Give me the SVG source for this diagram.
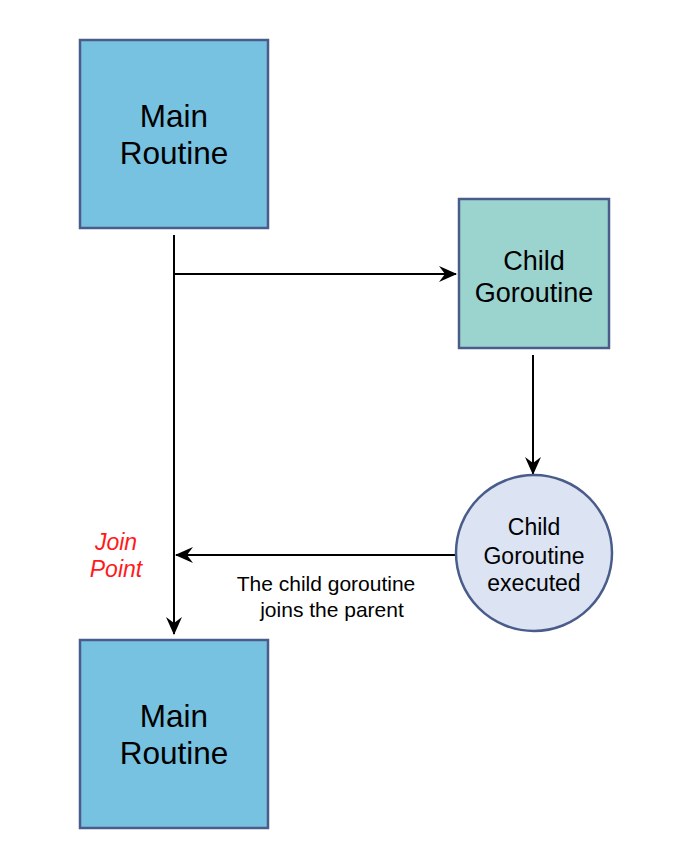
<svg xmlns="http://www.w3.org/2000/svg" width="680" height="862" viewBox="0 0 680 862">
<style>
.node{stroke:#4a5d8a;stroke-width:2.5}
.main{fill:#77c2e0}
.child{fill:#9bd3cf}
.done{fill:#dce3f3}
.t{font-family:"Liberation Sans",Arial,sans-serif;fill:#000;text-anchor:middle}
.red{fill:#ff1a1a;font-style:italic}
.edge{stroke:#000;stroke-width:2;fill:none}
</style>
<defs>
<marker id="arr" viewBox="0 0 18 16" refX="17" refY="8" markerWidth="18" markerHeight="16" markerUnits="userSpaceOnUse" orient="auto">
<path d="M0,0 L18,8 L0,16 L6,8 Z" fill="#000"/>
</marker>
</defs>
<rect width="680" height="862" fill="#fff"/>
<g id="connectors">
<path class="edge" d="M174,235 L174,634" marker-end="url(#arr)"/>
<path class="edge" d="M175,274 L456,274" marker-end="url(#arr)"/>
<path class="edge" d="M533,355 L533,474" marker-end="url(#arr)"/>
<path class="edge" d="M455,555 L176,555" marker-end="url(#arr)"/>
</g>
<g id="main1">
<rect class="node main" x="80" y="40" width="188" height="188"/>
<text class="t" x="174" y="127" font-size="31.5">Main</text>
<text class="t" x="174" y="164" font-size="31.5">Routine</text>
</g>
<g id="child">
<rect class="node child" x="459" y="199" width="150" height="149"/>
<text class="t" x="534" y="270" font-size="27">Child</text>
<text class="t" x="534" y="302" font-size="27">Goroutine</text>
</g>
<g id="executed">
<circle class="node done" cx="534" cy="553" r="78"/>
<text class="t" x="534" y="535" font-size="23">Child</text>
<text class="t" x="534" y="564" font-size="23">Goroutine</text>
<text class="t" x="534" y="591" font-size="23">executed</text>
</g>
<g id="main2">
<rect class="node main" x="80" y="640" width="188" height="188"/>
<text class="t" x="174" y="727" font-size="31.5">Main</text>
<text class="t" x="174" y="764" font-size="31.5">Routine</text>
</g>
<g id="labels">
<text class="t red" x="116" y="550" font-size="23">Join</text>
<text class="t red" x="116" y="577" font-size="23">Point</text>
<text class="t" x="326" y="591" font-size="21">The child goroutine</text>
<text class="t" x="332" y="617" font-size="21">joins the parent</text>
</g>
</svg>
